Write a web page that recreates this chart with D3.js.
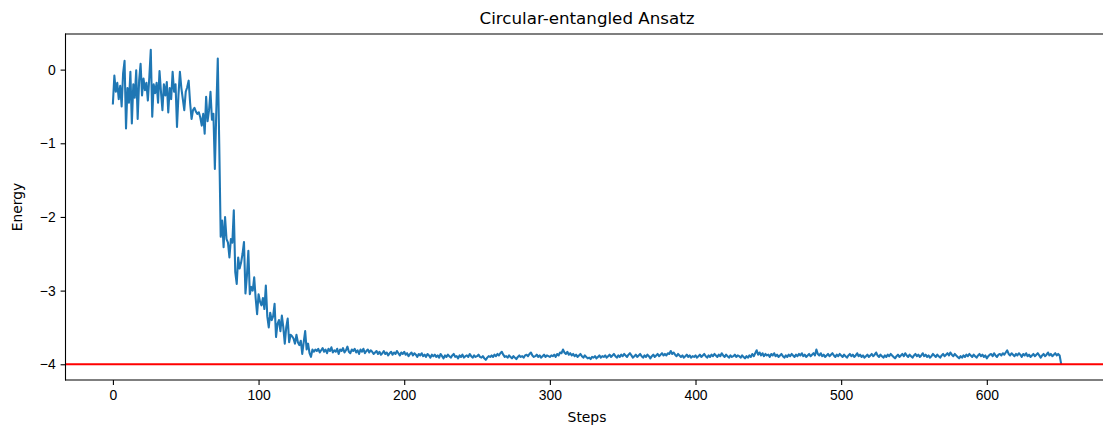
<!DOCTYPE html>
<html>
<head>
<meta charset="utf-8">
<script src="https://cdn.jsdelivr.net/npm/d3@7"></script>
<style>
	html, body { margin: 0; background: #fff; overflow: hidden; }
	svg { display: block; font-family: "DejaVu Sans", sans-serif; }
	.tick text { font-size: 13.9px; fill: #000; }
	.tick line { stroke: #000; stroke-width: 1.1; }
</style>
</head>
<body>
<div id="chart"></div>
<script>
// energy per optimisation step (step = array index)
const energyDescent = [
	-0.46, -0.08, -0.30, -0.18, -0.40, -0.22, -0.50, -0.05, 0.12, -0.80,
	-0.25, -0.45, -0.03, -0.73, -0.20, -0.38, -0.01, -0.67, -0.15, 0.08,
	-0.35, -0.12, -0.28, -0.18, -0.42, -0.10, 0.27, -0.64, -0.20, -0.32,
	-0.18, -0.45, -0.02, -0.30, -0.55, -0.20, -0.35, -0.17, -0.58, -0.25,
	-0.40, -0.03, -0.30, -0.20, -0.78, -0.35, -0.03, -0.25, -0.40, -0.55,
	-0.30, -0.24, -0.15, -0.45, -0.67, -0.55, -0.52, -0.57, -0.60, -0.58,
	-0.65, -0.76, -0.60, -0.87, -0.37, -0.70, -0.55, -0.30, -0.68, -0.60,
	-1.35, -0.55, 0.15, -1.00, -2.27, -2.05, -2.41, -2.00, -2.30, -2.35,
	-2.55, -2.30, -2.35, -1.91, -2.75, -2.91, -2.55, -2.70, -2.62, -2.50,
	-2.34, -3.04, -2.80, -2.46, -3.05, -2.95, -3.00, -2.82, -3.10, -3.32,
	-3.05, -3.15, -3.20, -3.10, -3.25, -2.93, -3.35, -3.50, -3.30, -3.40,
	-3.35, -3.18, -3.63, -3.45, -3.40, -3.55, -3.34, -3.50, -3.72, -3.50,
	-3.38, -3.70, -3.60, -3.62, -3.65, -3.72, -3.60, -3.70, -3.74, -3.68,
	-3.86, -3.70, -3.55, -3.80, -3.72, -3.85, -3.90, -3.80, -3.83, -3.80,
];

const energySettle = [
	-3.82, -3.79, -3.84, -3.81, -3.78, -3.83, -3.80, -3.85, -3.79, -3.82,
	-3.77, -3.84, -3.81, -3.83, -3.79, -3.86, -3.80, -3.82, -3.78, -3.84,
	-3.81, -3.76, -3.83, -3.85, -3.80, -3.82, -3.79, -3.84, -3.81, -3.86,
	-3.80, -3.83, -3.79, -3.85, -3.82, -3.80, -3.84, -3.81, -3.83, -3.86,
	-3.84, -3.82, -3.86, -3.83, -3.87, -3.85, -3.82, -3.86, -3.84, -3.88,
	-3.85, -3.83, -3.87, -3.84, -3.86, -3.82, -3.85, -3.88, -3.84, -3.86,
	-3.83, -3.87, -3.85, -3.89, -3.86, -3.84, -3.88, -3.85, -3.87, -3.90,
	-3.86, -3.88, -3.85, -3.89, -3.87, -3.90, -3.86, -3.88, -3.91, -3.87,
];

const energyPlateau = [
	-3.89, -3.87, -3.90, -3.88, -3.91, -3.86, -3.89, -3.92, -3.88, -3.90,
	-3.87, -3.89, -3.91, -3.88, -3.86, -3.90, -3.89, -3.92, -3.88, -3.90,
	-3.87, -3.91, -3.89, -3.88, -3.90, -3.86, -3.89, -3.91, -3.88, -3.90,
	-3.89, -3.87, -3.90, -3.91, -3.89, -3.92, -3.94, -3.91, -3.89, -3.90,
	-3.88, -3.90, -3.87, -3.89, -3.86, -3.88, -3.85, -3.83, -3.87, -3.90,
	-3.89, -3.91, -3.88, -3.90, -3.92, -3.89, -3.91, -3.93, -3.90, -3.88,
	-3.90, -3.89, -3.91, -3.88, -3.87, -3.89, -3.86, -3.84, -3.88, -3.90,
	-3.89, -3.87, -3.90, -3.88, -3.91, -3.89, -3.87, -3.90, -3.88, -3.89,
	-3.90, -3.88, -3.89, -3.87, -3.90, -3.86, -3.88, -3.84, -3.85, -3.80,
	-3.84, -3.86, -3.83, -3.87, -3.85, -3.88, -3.86, -3.89, -3.87, -3.90,
	-3.88, -3.86, -3.89, -3.91, -3.88, -3.90, -3.92, -3.91, -3.93, -3.90,
	-3.91, -3.89, -3.92, -3.90, -3.88, -3.91, -3.89, -3.90, -3.88, -3.91,
	-3.89, -3.87, -3.90, -3.88, -3.86, -3.89, -3.91, -3.88, -3.90, -3.87,
	-3.89, -3.86, -3.88, -3.90, -3.87, -3.85, -3.88, -3.91, -3.89, -3.87,
	-3.90, -3.88, -3.86, -3.89, -3.91, -3.88, -3.90, -3.87, -3.89, -3.92,
	-3.89, -3.87, -3.90, -3.88, -3.86, -3.89, -3.87, -3.85, -3.88, -3.86,
	-3.88, -3.85, -3.86, -3.82, -3.86, -3.84, -3.87, -3.89, -3.86, -3.88,
	-3.90, -3.88, -3.91, -3.89, -3.87, -3.90, -3.88, -3.91, -3.89, -3.90,
];

const energyTail = [
	-3.88, -3.91, -3.89, -3.87, -3.90, -3.88, -3.86, -3.89, -3.91, -3.88,
	-3.90, -3.87, -3.89, -3.86, -3.88, -3.90, -3.87, -3.89, -3.85, -3.88,
	-3.90, -3.87, -3.89, -3.91, -3.88, -3.90, -3.89, -3.87, -3.90, -3.88,
	-3.89, -3.91, -3.88, -3.90, -3.92, -3.89, -3.91, -3.88, -3.90, -3.86,
	-3.89, -3.85, -3.81, -3.87, -3.84, -3.88, -3.85, -3.89, -3.86, -3.88,
	-3.87, -3.90, -3.86, -3.88, -3.85, -3.89, -3.87, -3.90, -3.88, -3.86,
	-3.89, -3.91, -3.88, -3.90, -3.87, -3.89, -3.86, -3.88, -3.90, -3.87,
	-3.89, -3.86, -3.88, -3.85, -3.89, -3.87, -3.90, -3.88, -3.86, -3.89,
	-3.87, -3.85, -3.88, -3.80, -3.86, -3.88, -3.85, -3.89, -3.87, -3.90,
	-3.88, -3.86, -3.89, -3.87, -3.85, -3.88, -3.90, -3.87, -3.89, -3.86,
	-3.88, -3.90, -3.87, -3.89, -3.91, -3.88, -3.86, -3.89, -3.87, -3.90,
	-3.88, -3.85, -3.89, -3.87, -3.90, -3.88, -3.91, -3.89, -3.87, -3.90,
	-3.88, -3.86, -3.89, -3.87, -3.84, -3.88, -3.90, -3.87, -3.89, -3.91,
	-3.88, -3.90, -3.87, -3.89, -3.86, -3.88, -3.90, -3.92, -3.89, -3.87,
	-3.90, -3.88, -3.86, -3.89, -3.85, -3.88, -3.90, -3.87, -3.89, -3.91,
	-3.88, -3.86, -3.89, -3.87, -3.90, -3.88, -3.85, -3.89, -3.87, -3.90,
	-3.88, -3.91, -3.89, -3.86, -3.88, -3.90, -3.87, -3.89, -3.91, -3.88,
	-3.86, -3.89, -3.87, -3.85, -3.88, -3.84, -3.87, -3.89, -3.86, -3.88,
	-3.90, -3.92, -3.89, -3.91, -3.88, -3.90, -3.87, -3.89, -3.86, -3.88,
	-3.90, -3.87, -3.89, -3.91, -3.88, -3.86, -3.89, -3.87, -3.90, -3.88,
	-3.92, -3.89, -3.87, -3.86, -3.89, -3.85, -3.88, -3.90, -3.87, -3.86,
	-3.88, -3.85, -3.87, -3.84, -3.81, -3.86, -3.88, -3.85, -3.87, -3.89,
	-3.86, -3.88, -3.85, -3.87, -3.90, -3.86, -3.88, -3.85, -3.89, -3.87,
	-3.90, -3.88, -3.86, -3.89, -3.87, -3.85, -3.88, -3.91, -3.88, -3.86,
	-3.89, -3.87, -3.84, -3.88, -3.86, -3.89, -3.87, -3.85, -3.88, -3.86,
	-3.88, -3.99,
];

const targetEnergy = -4;
const xTicks = [0, 100, 200, 300, 400, 500, 600];
const yTicks = [0, -1, -2, -3, -4];

const energy = energyDescent.concat(energySettle, energyPlateau, energyTail);

const width = 1103;
const height = 433;
// the axes run a few pixels past the right edge of the picture
const margin = { top: 34, bottom: 53, left: 65.5, right: -5.5 };

const svg = d3
	.select("#chart")
	.append("svg")
	.attr("width", width)
	.attr("height", height)
	.attr("viewBox", [0, 0, width, height]);

// matplotlib style 5% padding on both axes
const n = energy.length - 1;
const xScale = d3
	.scaleLinear()
	.domain([-0.05 * n, n * 1.05])
	.range([margin.left, width - margin.right]);

const yMin = Math.min(d3.min(energy), targetEnergy);
const yMax = d3.max(energy);
const yPad = (yMax - yMin) * 0.05;
const yScale = d3
	.scaleLinear()
	.domain([yMin - yPad, yMax + yPad])
	.range([height - margin.bottom, margin.top]);

const plotW = width - margin.left - margin.right;
const plotH = height - margin.top - margin.bottom;
const plotBottom = height - margin.bottom;

svg
	.append("clipPath")
	.attr("id", "plot-clip")
	.append("rect")
	.attr("x", margin.left)
	.attr("y", margin.top)
	.attr("width", plotW)
	.attr("height", plotH);

const line = d3
	.line()
	.x((d, i) => xScale(i))
	.y((d) => yScale(d));

svg
	.append("path")
	.datum(energy)
	.attr("clip-path", "url(#plot-clip)")
	.attr("fill", "none")
	.attr("stroke", "#1f77b4")
	.attr("stroke-width", 2.08)
	.attr("stroke-linejoin", "round")
	.attr("stroke-linecap", "square")
	.attr("d", line);

svg
	.append("line")
	.attr("clip-path", "url(#plot-clip)")
	.attr("x1", margin.left)
	.attr("x2", width - margin.right)
	.attr("y1", yScale(targetEnergy))
	.attr("y2", yScale(targetEnergy))
	.attr("stroke", "red")
	.attr("stroke-width", 2.08);

const xAxis = (g) => {
	g.attr("transform", `translate(0,${plotBottom})`).call(
		d3.axisBottom(xScale).tickValues(xTicks).tickSize(4.9).tickPadding(4.9)
	);
	g.select(".domain").remove();
};

const yAxis = (g) => {
	g.attr("transform", `translate(${margin.left},0)`).call(
		d3
			.axisLeft(yScale)
			.tickValues(yTicks)
			.tickSize(4.9)
			.tickPadding(4.9)
			.tickFormat(d3.format("d"))
	);
	g.select(".domain").remove();
};

svg.append("g").call(xAxis);
svg.append("g").call(yAxis);

// spines: left, top, bottom (the right one is off the picture)
const spines = [
	[margin.left, margin.top, margin.left, plotBottom],
	[margin.left, margin.top, width, margin.top],
	[margin.left, plotBottom, width, plotBottom],
];
svg
	.append("g")
	.selectAll("line")
	.data(spines)
	.join("line")
	.attr("x1", (d) => d[0])
	.attr("y1", (d) => d[1])
	.attr("x2", (d) => d[2])
	.attr("y2", (d) => d[3])
	.attr("stroke", "#000")
	.attr("stroke-width", 1.1)
	.attr("stroke-linecap", "square");

svg
	.append("text")
	.attr("x", margin.left + plotW / 2)
	.attr("y", 24)
	.attr("text-anchor", "middle")
	.attr("font-size", "16.7px")
	.text("Circular-entangled Ansatz");

svg
	.append("text")
	.attr("x", margin.left + plotW / 2)
	.attr("y", 422)
	.attr("text-anchor", "middle")
	.attr("font-size", "13.9px")
	.text("Steps");

svg
	.append("text")
	.attr("transform", `translate(22,${margin.top + plotH / 2}) rotate(-90)`)
	.attr("text-anchor", "middle")
	.attr("font-size", "13.9px")
	.text("Energy");
</script>
</body>
</html>
